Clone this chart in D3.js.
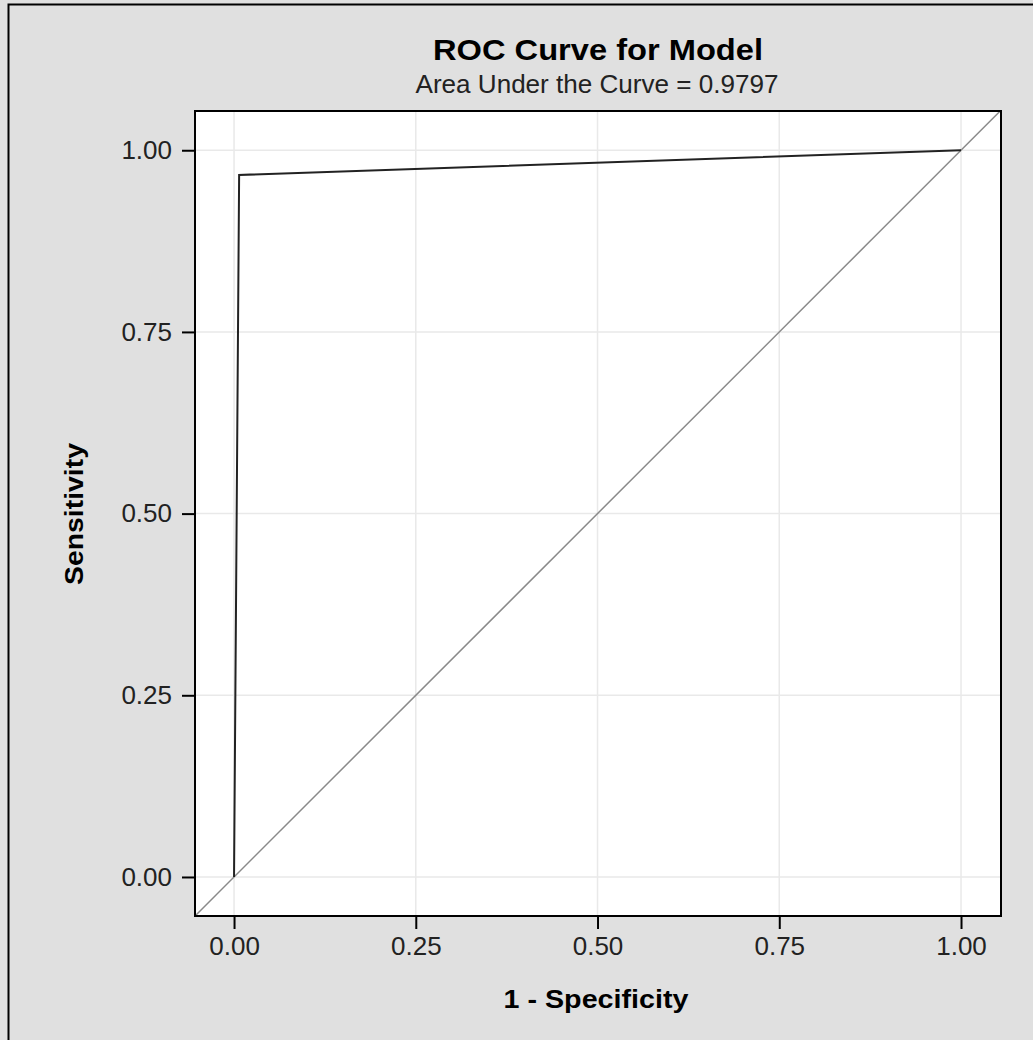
<!DOCTYPE html>
<html>
<head>
<meta charset="utf-8">
<script src="https://cdn.jsdelivr.net/npm/d3@7"></script>
<style>
  body { margin: 0; background: #e0e0e0; }
  svg { display: block; font-family: "Liberation Sans", Arial, sans-serif; }
</style>
</head>
<body>
<div id="plot"></div>
<script>
// ROC curve points
const fpr = [0, 0.007, 1];
const tpr = [0, 0.966, 1];
const ticks = [0, 0.25, 0.5, 0.75, 1];
const tickLabels = ["0.00", "0.25", "0.50", "0.75", "1.00"];
const titleText = "ROC Curve for Model";
const subtitleText = "Area Under the Curve = 0.9797";

const svgWidth = 1033;
const svgHeight = 1040;
const plot = {left: 195, top: 111, right: 1001, bottom: 916};

let svg = d3.select("#plot")
  .append("svg")
  .attr("width", svgWidth)
  .attr("height", svgHeight);

// outer background and border (cropped on right and bottom)
svg.append("rect")
  .attr("x", 0).attr("y", 0)
  .attr("width", svgWidth).attr("height", svgHeight)
  .attr("fill", "#e0e0e0");
svg.append("rect")
  .attr("x", 8.5).attr("y", 4.5)
  .attr("width", 1200).attr("height", 1200)
  .attr("fill", "none")
  .attr("stroke", "#000")
  .attr("stroke-width", 2);

var x = d3.scaleLinear()
  .domain([-0.0537, 1.055])
  .range([plot.left, plot.right]);
var y = d3.scaleLinear()
  .domain([-0.0537, 1.054])
  .range([plot.bottom, plot.top]);

// plot area
svg.append("rect")
  .attr("x", plot.left).attr("y", plot.top)
  .attr("width", plot.right - plot.left)
  .attr("height", plot.bottom - plot.top)
  .attr("fill", "#fff");

// grid lines
svg.append("g").selectAll("line")
  .data(ticks).enter().append("line")
  .attr("x1", d => x(d)).attr("x2", d => x(d))
  .attr("y1", plot.top).attr("y2", plot.bottom)
  .attr("stroke", "#e9e9e9").attr("stroke-width", 1.5);
svg.append("g").selectAll("line")
  .data(ticks).enter().append("line")
  .attr("y1", d => y(d)).attr("y2", d => y(d))
  .attr("x1", plot.left).attr("x2", plot.right)
  .attr("stroke", "#e9e9e9").attr("stroke-width", 1.5);

// diagonal reference line
let clip = svg.append("clipPath").attr("id", "clip")
  .append("rect")
  .attr("x", plot.left).attr("y", plot.top)
  .attr("width", plot.right - plot.left)
  .attr("height", plot.bottom - plot.top);

svg.append("line")
  .attr("clip-path", "url(#clip)")
  .attr("x1", x(-0.06)).attr("y1", y(-0.06))
  .attr("x2", x(1.06)).attr("y2", y(1.06))
  .attr("stroke", "#8a8a8a").attr("stroke-width", 1.5);

// ROC curve
let rocData = fpr.map((d, i) => [d, tpr[i]]);
svg.append("path")
  .datum(rocData)
  .attr("fill", "none")
  .attr("stroke", "#222")
  .attr("stroke-width", 2)
  .attr("d", d3.line().x(d => x(d[0])).y(d => y(d[1])));

// axes
let xAxis = svg.append("g")
  .attr("transform", "translate(0," + plot.bottom + ")")
  .call(d3.axisBottom(x).tickValues(ticks).tickFormat((d, i) => tickLabels[i])
    .tickSize(13).tickPadding(8).tickSizeOuter(0));
let yAxis = svg.append("g")
  .attr("transform", "translate(" + plot.left + ",0)")
  .call(d3.axisLeft(y).tickValues(ticks).tickFormat((d, i) => tickLabels[i])
    .tickSize(13).tickPadding(10).tickSizeOuter(0));

[xAxis, yAxis].forEach(a => {
  a.select(".domain").remove();
  a.selectAll(".tick line").attr("stroke", "#000").attr("stroke-width", 2);
  a.selectAll(".tick text")
    .attr("font-family", "'Liberation Sans', Arial, sans-serif")
    .attr("font-size", 26)
    .attr("fill", "#222");
});

// plot frame
svg.append("rect")
  .attr("x", plot.left).attr("y", plot.top)
  .attr("width", plot.right - plot.left)
  .attr("height", plot.bottom - plot.top)
  .attr("fill", "none")
  .attr("stroke", "#000")
  .attr("stroke-width", 2);

// titles
svg.append("text")
  .attr("x", 598).attr("y", 60)
  .attr("text-anchor", "middle")
  .attr("font-size", 30).attr("font-weight", "bold")
  .attr("textLength", 330).attr("lengthAdjust", "spacingAndGlyphs")
  .text(titleText);
svg.append("text")
  .attr("x", 597).attr("y", 93)
  .attr("text-anchor", "middle")
  .attr("font-size", 26).attr("fill", "#222")
  .attr("textLength", 363).attr("lengthAdjust", "spacingAndGlyphs")
  .text(subtitleText);

// axis labels
svg.append("text")
  .attr("x", 596).attr("y", 1008)
  .attr("text-anchor", "middle")
  .attr("font-size", 25).attr("font-weight", "bold")
  .attr("textLength", 185).attr("lengthAdjust", "spacingAndGlyphs")
  .text("1 - Specificity");
svg.append("text")
  .attr("transform", "translate(83,514) rotate(-90)")
  .attr("text-anchor", "middle")
  .attr("font-size", 25).attr("font-weight", "bold")
  .attr("textLength", 142).attr("lengthAdjust", "spacingAndGlyphs")
  .text("Sensitivity");
</script>
</body>
</html>
